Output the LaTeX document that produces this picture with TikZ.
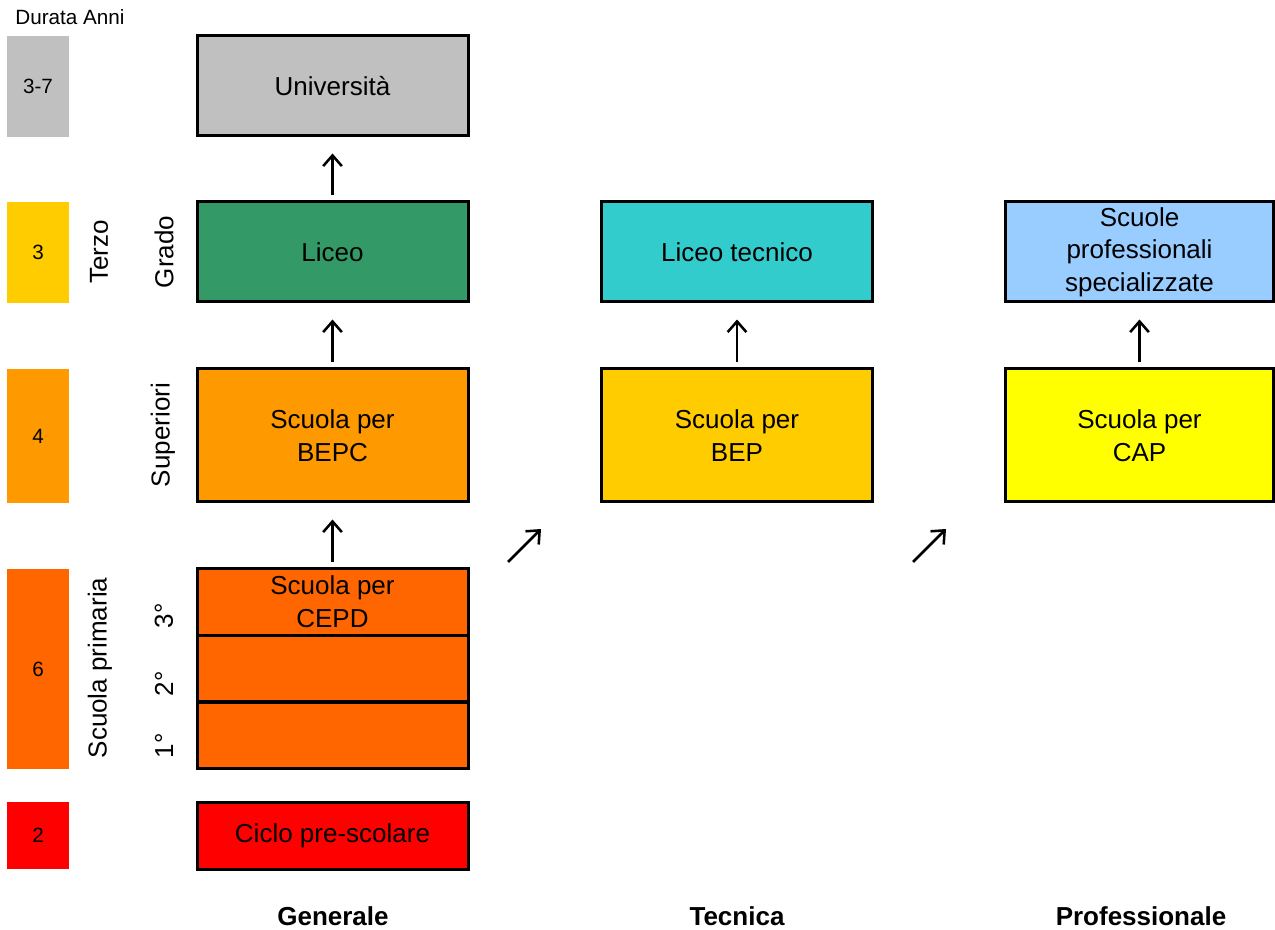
\documentclass[tikz,border=0pt]{standalone}
\usepackage{fontspec}
\setmainfont{Liberation Sans}
\usetikzlibrary{arrows.meta}
\definecolor{cgray}{HTML}{C0C0C0}
\definecolor{cgreen}{HTML}{339966}
\definecolor{ccyan}{HTML}{33CCCC}
\definecolor{cblue}{HTML}{99CCFF}
\definecolor{corange}{HTML}{FF9900}
\definecolor{cgold}{HTML}{FFCC00}
\definecolor{cyellow}{HTML}{FFFF00}
\definecolor{cred}{HTML}{FF6600}
\definecolor{cpure}{HTML}{FF0000}
\tikzset{
  big/.style={font=\fontsize{19.5}{24.5}\selectfont},
  small/.style={font=\fontsize{15.5}{18}\selectfont},
  school/.style={draw=black, line width=2.25pt, inner sep=0pt, align=center,
    minimum width=203.25pt, big},
  yearbox/.style={inner sep=0pt, minimum width=46.5pt, small},
  side/.style={rotate=90, big, inner sep=0pt},
  upto/.style={line width=1.9pt, -{Straight Barb[length=8pt,width=14pt,line width=1.9pt]}},
  colhead/.style={font=\fontsize{19.5}{24}\selectfont\bfseries}
}
\begin{document}
\begin{tikzpicture}[x=0.75pt,y=-0.75pt]
\useasboundingbox (0,0) rectangle (1275,930);

% duration column
\node[small] (dur) at (70,17) {Durata Anni};
\node[yearbox, fill=cgray,   minimum height=75.75pt]  (y37) at (38,86.5)  {3-7};
\node[yearbox, fill=cgold,   minimum height=75.75pt]  (y3)  at (38,252.5) {3};
\node[yearbox, fill=corange, minimum height=100.5pt]  (y4)  at (38,436)   {4};
\node[yearbox, fill=cred,    minimum height=150pt]    (y6)  at (38,669)   {6};
\node[yearbox, fill=cpure,   minimum height=50.25pt]  (y2)  at (38,835.5) {2};

% level names
\node[side] (terzo) at (99,252) {Terzo};
\node[side] (grado) at (164,252) {Grado};
\node[side] (sup)   at (163,435) {Superiori};
\node[side] (prim)  at (100,668) {Scuola primaria};
\node[side] (c1)    at (164,746) {1°};
\node[side] (c2)    at (164,684) {2°};
\node[side] (c3)    at (164,616) {3°};

% general track
\node[school, fill=cgray,  minimum height=75pt]   (univ)  at (332.5,86)    {Università};
\node[school, fill=cgreen, minimum height=75pt]   (liceo) at (332.5,252)   {Liceo};
\node[school, fill=corange,minimum height=99.75pt](bepc)  at (332.5,435.5) {Scuola per\\BEPC};
\node[school, fill=cred,   minimum height=50pt]   (cepd)  at (332.5,602)   {Scuola per\\CEPD};
\node[school, fill=cred,   minimum height=50pt]   (p2)    at (332.5,668.5) {};
\node[school, fill=cred,   minimum height=50pt]   (p1)    at (332.5,735.5) {};
\node[school, fill=cpure,  minimum height=50.25pt](pre)   at (332.5,835.5) {Ciclo pre-scolare};

% technical track
\node[school, fill=ccyan, minimum height=75pt]    (ltec) at (737,252)   {Liceo tecnico};
\node[school, fill=cgold, minimum height=99.75pt] (bep)  at (737,435.5) {Scuola per\\BEP};

% professional track
\node[school, fill=cblue,   minimum height=75pt, minimum width=201pt]    (spec) at (1139.5,252)   {Scuole\\professionali\\specializzate};
\node[school, fill=cyellow, minimum height=99.75pt, minimum width=201pt] (cap)  at (1139.5,435.5) {Scuola per\\CAP};

% progressions
\draw[upto] ([yshift=3.75pt]liceo.north) -- ([yshift=-12pt]univ.south);
\draw[upto] ([yshift=3.75pt]bepc.north)  -- ([yshift=-12pt]liceo.south);
\draw[upto] ([yshift=3.75pt]cepd.north)  -- ([yshift=-12pt]bepc.south);
\draw[upto] ([yshift=3.75pt]bep.north)   -- ([yshift=-12pt]ltec.south);
\draw[upto] ([yshift=3.75pt]cap.north)   -- ([yshift=-12pt]spec.south);

\coordinate (d1s) at (508,562);
\coordinate (d1e) at (541,529);
\coordinate (d2s) at (913,562);
\coordinate (d2e) at (946,529);
\draw[upto] (d1s) -- (d1e);
\draw[upto] (d2s) -- (d2e);

% track names
\node[colhead] (gen)  at (333,916)  {Generale};
\node[colhead] (tec)  at (737,916)  {Tecnica};
\node[colhead] (prof) at (1141,916) {Professionale};
\end{tikzpicture}
\end{document}
